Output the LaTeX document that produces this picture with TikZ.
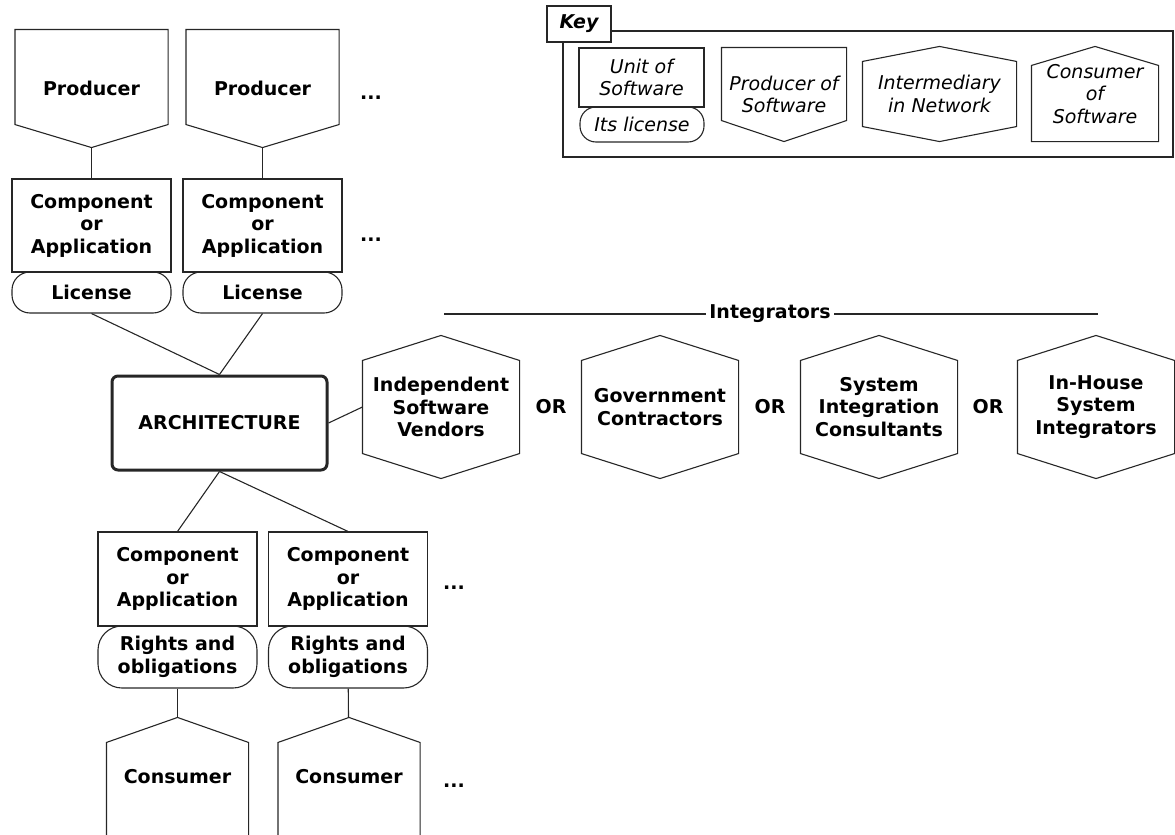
\documentclass[tikz,border=0pt]{standalone}
\usepackage{fontspec}
\setmainfont{DejaVu Sans}
\begin{document}
\begin{tikzpicture}[x=1pt, y=-1pt, line width=1.1pt, draw=black!85,
  font=\fontsize{19}{22.5}\selectfont\bfseries]
  \tikzstyle{shp}=[inner sep=0pt, align=center]
  \tikzstyle{unit}=[shp, draw, minimum width=159pt, minimum height=93pt]
  \tikzstyle{lic}=[shp, draw, rounded corners=18pt, minimum width=159pt, minimum height=41pt]
  \tikzstyle{prod}=[shp, minimum width=152pt, minimum height=117pt]
  \tikzstyle{hex}=[shp, minimum width=156pt, minimum height=142pt]
  \tikzstyle{cons}=[shp, minimum width=141pt, minimum height=118pt]
  \tikzstyle{keyitem}=[shp, font=\fontsize{19}{22.5}\selectfont\mdseries\itshape]
  \useasboundingbox (0,0) rectangle (1175,835);

  % producers and their parts
  \node[prod] (prodA) at (91.5,88.5) {Producer};
  \node[prod] (prodB) at (262.5,88.5) {Producer};
  \node (dotsA) at (371,98) {...};
  \node[unit] (compA) at (91.5,225.5) {Component\\or\\Application};
  \node[unit] (compB) at (262.5,225.5) {Component\\or\\Application};
  \node (dotsB) at (371,240) {...};
  \node[lic] (licA) at (91.5,292.5) {License};
  \node[lic] (licB) at (262.5,292.5) {License};

  \node[draw, shp, line width=3pt, rounded corners=6pt,
    minimum width=215pt, minimum height=94pt] (arch) at (219.5,423) {ARCHITECTURE};

  % integrators
  \coordinate (intL) at (444,314);
  \coordinate (intR) at (1098,314);
  \node (integ) at (770,314) {Integrators};
  \node[hex] (isv) at (441,407) {Independent\\Software\\Vendors};
  \node (orA) at (551,407) {OR};
  \node[hex] (gov) at (660,407) {Government\\Contractors};
  \node (orB) at (770,407) {OR};
  \node[hex] (sic) at (879,407) {System\\Integration\\Consultants};
  \node (orC) at (988,407) {OR};
  \node[hex] (ihs) at (1096,407) {In-House\\System\\Integrators};

  % consumers and their parts
  \node[unit, minimum height=94pt] (compC) at (177.5,579) {Component\\or\\Application};
  \node[unit, minimum height=94pt] (compD) at (348,579) {Component\\or\\Application};
  \node (dotsC) at (454,588) {...};
  \node[lic, rounded corners=24pt, minimum height=62pt] (rightsC) at (177.5,657) {Rights and\\obligations};
  \node[lic, rounded corners=24pt, minimum height=62pt] (rightsD) at (348,657) {Rights and\\obligations};
  \node[cons] (consC) at (177.5,777) {Consumer};
  \node[cons] (consD) at (349,777) {Consumer};
  \node (dotsD) at (454,786) {...};

  % key
  \node[draw, shp, minimum width=64pt, minimum height=36pt,
    font=\fontsize{19}{22.5}\selectfont\bfseries\itshape] (keytab) at (579,24) {Key};
  \draw (563,42) |- (1173,157) |- (611,31);
  \node[keyitem, draw, minimum width=125pt, minimum height=59pt] (keyunit) at (641.5,77.5) {Unit of\\Software};
  \node[keyitem, draw, rounded corners=16pt, minimum width=124pt, minimum height=35pt] (keylic) at (642,124.5) {Its license};
  \node[keyitem, minimum width=124pt, minimum height=93pt] (keyprod) at (784,94.5) {Producer of\\Software};
  \node[keyitem, minimum width=153pt, minimum height=94pt] (keyint) at (939.5,94) {Intermediary\\in Network};
  \node[keyitem, minimum width=126pt, minimum height=94pt] (keycons) at (1095,94) {Consumer\\of\\Software};

  % outlines
  \foreach \n/\h in {prodA/23, prodB/23, keyprod/21}
    \draw (\n.north west) -- (\n.north east) -- ([yshift=\h pt]\n.south east)
      -- (\n.south) -- ([yshift=\h pt]\n.south west) -- cycle;
  \foreach \n/\h in {isv/25, gov/25, sic/25, ihs/25, keyint/15}
    \draw (\n.north) -- ([yshift=-\h pt]\n.north east) -- ([yshift=\h pt]\n.south east)
      -- (\n.south) -- ([yshift=\h pt]\n.south west) -- ([yshift=-\h pt]\n.north west) -- cycle;
  \foreach \n in {consC, consD}
    \draw (\n.south west) -- ([yshift=-25pt]\n.north west) -- (\n.north)
      -- ([yshift=-25pt]\n.north east) -- (\n.south east);
  \draw (keycons.south west) -- ([yshift=-19pt]keycons.north west) -- (keycons.north)
    -- ([yshift=-19pt]keycons.north east) -- (keycons.south east) -- cycle;

  % connectors
  \draw (prodA) -- (compA);
  \draw (prodB) -- (compB);
  \draw (licA.south) -- (arch.north);
  \draw (licB.south) -- (arch.north);
  \draw (arch.east) -- (isv.west);
  \draw (arch.south) -- (compC.north);
  \draw (arch.south) -- (compD.north);
  \draw (rightsC) -- (consC);
  \draw (rightsD) -- (consD);
  \draw (intL) -- (integ);
  \draw (integ) -- (intR);
\end{tikzpicture}
\end{document}
